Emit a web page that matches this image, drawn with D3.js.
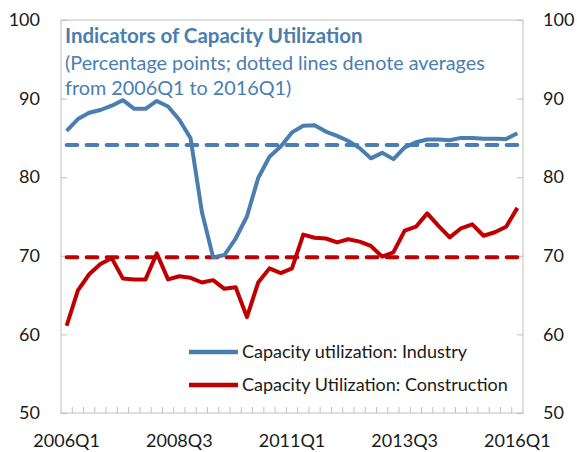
<!DOCTYPE html>
<html>
<head>
<meta charset="utf-8">
<script src="https://d3js.org/d3.v7.min.js"></script>
<style>
  body { margin: 0; background: #fff; }
  svg { display: block; font-family: Lato, "Open Sans", sans-serif; }
</style>
</head>
<body>
<div id="chart"></div>
<script>
// quarters 2006Q1 .. 2016Q1
const quarters = [
  "2006Q1","2006Q2","2006Q3","2006Q4","2007Q1","2007Q2","2007Q3","2007Q4",
  "2008Q1","2008Q2","2008Q3","2008Q4","2009Q1","2009Q2","2009Q3","2009Q4",
  "2010Q1","2010Q2","2010Q3","2010Q4","2011Q1","2011Q2","2011Q3","2011Q4",
  "2012Q1","2012Q2","2012Q3","2012Q4","2013Q1","2013Q2","2013Q3","2013Q4",
  "2014Q1","2014Q2","2014Q3","2014Q4","2015Q1","2015Q2","2015Q3","2015Q4",
  "2016Q1"
];
const industry = [
  85.9, 87.4, 88.2, 88.55, 89.1, 89.8, 88.7, 88.7, 89.7, 89.0,
  87.3, 84.95, 75.6, 69.8, 70.1, 72.2, 75.0, 79.9, 82.6, 83.9,
  85.7, 86.55, 86.6, 85.8, 85.25, 84.6, 83.7, 82.4, 83.1, 82.3,
  83.8, 84.45, 84.8, 84.8, 84.7, 85.0, 85.0, 84.9, 84.9, 84.85,
  85.6
];
const construction = [
  61.1, 65.6, 67.65, 68.96, 69.7, 67.1, 67.0, 67.0, 70.3, 67.0,
  67.4, 67.2, 66.6, 66.9, 65.8, 66.0, 62.2, 66.6, 68.4, 67.8,
  68.4, 72.7, 72.3, 72.2, 71.7, 72.1, 71.8, 71.25, 69.9, 70.45,
  73.2, 73.7, 75.4, 73.8, 72.35, 73.5, 74.0, 72.55, 73.0, 73.7,
  76.1
];
const avgIndustry = 84.1;
const avgConstruction = 69.8;
const xLabels = ["2006Q1","2008Q3","2011Q1","2013Q3","2016Q1"];
const yTicks = [50, 60, 70, 80, 90, 100];
const seriesNames = ["Capacity utilization: Industry", "Capacity Utilization: Construction"];

const W = 577, H = 452;
const m = {left: 61, right: 54, top: 20, bottom: 39};
const blue = "#4a7eb0", red = "#c00000", grey = "#bfbfbf";

const svg = d3.select("#chart").append("svg")
  .attr("width", W).attr("height", H);

const x = d3.scaleBand().domain(quarters).range([m.left, W - m.right]);
const y = d3.scaleLinear().domain([50, 100]).range([H - m.bottom, m.top]);
const cx = d => x(d) + x.bandwidth() / 2;

// frame
svg.append("rect")
  .attr("x", m.left).attr("y", m.top)
  .attr("width", W - m.right - m.left).attr("height", H - m.bottom - m.top)
  .attr("fill", "none").attr("stroke", grey).attr("stroke-width", 1);

// left axis
const gl = svg.append("g").attr("transform", `translate(${m.left},0)`)
  .call(d3.axisLeft(y).tickValues(yTicks).tickSize(-6).tickPadding(21));
// right axis
const gr = svg.append("g").attr("transform", `translate(${W - m.right},0)`)
  .call(d3.axisRight(y).tickValues(yTicks).tickSize(-6).tickPadding(20));
// bottom axis
const gb = svg.append("g").attr("transform", `translate(0,${H - m.bottom})`)
  .call(d3.axisBottom(x).tickValues(xLabels).tickSize(0).tickPadding(21));

[gl, gr, gb].forEach(g => {
  g.select(".domain").remove();
  g.selectAll(".tick line").attr("stroke", grey);
  g.selectAll("text").attr("fill", "#1a1a1a").style("font-size", "18px")
    .style("font-family", "Lato, 'Open Sans', sans-serif");
});

// small bottom tick marks at quarter boundaries
svg.append("g").selectAll("line")
  .data(quarters.slice(1))
  .join("line")
  .attr("x1", d => x(d)).attr("x2", d => x(d))
  .attr("y1", H - m.bottom).attr("y2", H - m.bottom - 6)
  .attr("stroke", grey);

// average lines
const avgs = [[avgIndustry, blue], [avgConstruction, red]];
svg.append("g").selectAll("line")
  .data(avgs)
  .join("line")
  .attr("x1", cx(quarters[0])).attr("x2", cx(quarters[quarters.length - 1]))
  .attr("y1", d => y(d[0])).attr("y2", d => y(d[0]))
  .attr("stroke", d => d[1]).attr("stroke-width", 4)
  .attr("stroke-linecap", "round")
  .attr("stroke-dasharray", "10.7,9.3");

// series lines
const line = d3.line().x((d, i) => cx(quarters[i])).y(d => y(d));
svg.append("path").datum(industry)
  .attr("d", line).attr("fill", "none")
  .attr("stroke", blue).attr("stroke-width", 4).attr("stroke-linejoin", "round");
svg.append("path").datum(construction)
  .attr("d", line).attr("fill", "none")
  .attr("stroke", red).attr("stroke-width", 4).attr("stroke-linejoin", "round");

// title
const title = svg.append("g").attr("fill", blue);
title.append("text").attr("x", 65).attr("y", 43)
  .style("font-size", "20.5px").style("font-weight", "bold")
  .text("Indicators of Capacity Utilization");
title.append("text").attr("x", 65).attr("y", 70)
  .style("font-size", "19.8px")
  .text("(Percentage points; dotted lines denote averages");
title.append("text").attr("x", 65).attr("y", 95)
  .style("font-size", "19.8px")
  .text("from 2006Q1 to 2016Q1)");

// legend
const leg = svg.append("g").selectAll("g")
  .data(seriesNames)
  .join("g")
  .attr("transform", (d, i) => `translate(189,${352 + i * 33})`);
leg.append("line")
  .attr("x1", 0).attr("x2", 49)
  .attr("stroke", (d, i) => i ? red : blue).attr("stroke-width", 4.5);
leg.append("text")
  .attr("x", 53).attr("dy", "0.35em")
  .attr("fill", "#1a1a1a").style("font-size", "18px")
  .text(d => d);
</script>
</body>
</html>
